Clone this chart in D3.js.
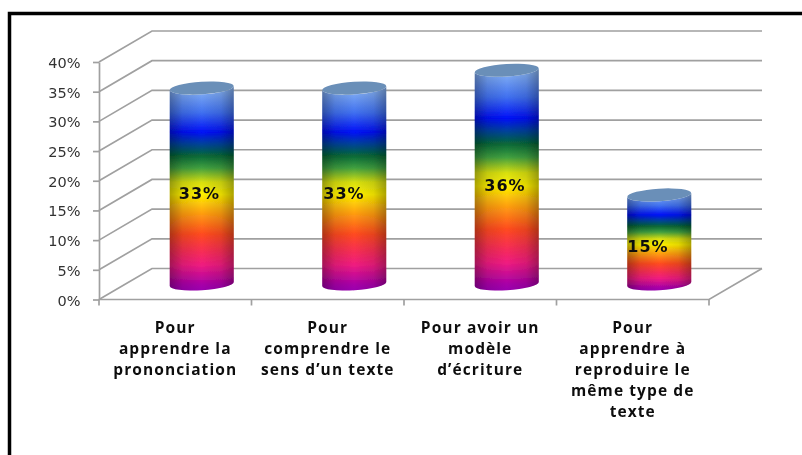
<!DOCTYPE html>
<html><head><meta charset="utf-8">
<script src="https://cdnjs.cloudflare.com/ajax/libs/d3/7.8.5/d3.min.js"></script>
<style>html,body{margin:0;padding:0;background:#fff}svg{display:block}</style>
</head><body><svg id="c" width="802" height="455"></svg>
<script>
const categories = [
  ["Pour","apprendre la","prononciation"],
  ["Pour","comprendre le","sens d’un texte"],
  ["Pour avoir un","modèle","d’écriture"],
  ["Pour","apprendre à","reproduire le","même type de","texte"]
];
const values = [33, 33, 36, 15];
const valueLabels = ["33%","33%","36%","15%"];
const yTicks = [0,5,10,15,20,25,30,35,40];
const rainbowStops = [
  [0,"#9a00b0"],[0.03,"#a800a8"],[0.125,"#f01c80"],[0.2,"#f83050"],[0.275,"#ff4a20"],[0.38,"#ffa010"],[0.47,"#fff000"],[0.53,"#d8e010"],
  [0.6,"#40a040"],[0.66,"#086838"],[0.72,"#0040a0"],[0.775,"#0010f8"],[0.87,"#4070f0"],[1,"#90bcf4"]
];

const svg = d3.select("#c");
const depthX = 53, depthY = -31;
const x = d3.scaleBand().domain(d3.range(categories.length)).range([99,709]);
const y = d3.scaleLinear().domain([0,40]).range([299.5,62]);
const gridCol = "#a0a0a0";
const defs = svg.append("defs");
const rg = defs.append("linearGradient").attr("id","rainbow").attr("x1",0).attr("y1",1).attr("x2",0).attr("y2",0);
rainbowStops.forEach(s=>rg.append("stop").attr("offset",s[0]).attr("stop-color",s[1]));
const sh = defs.append("linearGradient").attr("id","shade");
[[0,.32],[.2,.1],[.5,0],[.8,.1],[1,.32]].forEach(s=>sh.append("stop").attr("offset",s[0]).attr("stop-color","#000").attr("stop-opacity",s[1]));
defs.append("filter").attr("id","soft").append("feGaussianBlur").attr("stdDeviation",0.45);

svg.append("rect").attr("x",9.5).attr("y",13.5).attr("width",800).attr("height",460).attr("fill","#fff").attr("stroke","#000").attr("stroke-width",3.5);

const plot = svg.append("g").attr("filter","url(#soft)");
yTicks.forEach(t=>{
  const p = d3.path();
  p.moveTo(x.range()[0],y(t)); p.lineTo(x.range()[0]+depthX,y(t)+depthY); p.lineTo(x.range()[1]+depthX,y(t)+depthY);
  plot.append("path").attr("d",p).attr("fill","none").attr("stroke",gridCol).attr("stroke-width",1.7);
});
const floor = d3.path();
floor.moveTo(x.range()[0],y(0)); floor.lineTo(x.range()[1],y(0)); floor.lineTo(x.range()[1]+depthX,y(0)+depthY);
plot.append("path").attr("d",floor).attr("fill","none").attr("stroke",gridCol).attr("stroke-width",1.7);
const yAxis = d3.axisLeft(y).tickValues(yTicks).tickSize(6).tickSizeOuter(0).tickFormat(d=>d+"%");
const ga = plot.append("g").attr("transform",`translate(${x.range()[0]},0)`).call(yAxis);
ga.selectAll("path,line").attr("stroke",gridCol).attr("stroke-width",1.7);
ga.selectAll("text").attr("font-family","'DejaVu Sans'").attr("font-size",14.5).attr("fill","#333").attr("x",-18.5).attr("dy","0.38em");
d3.range(categories.length+1).forEach(i=>{
  const tx = x.range()[0]+i*x.step();
  plot.append("line").attr("x1",tx).attr("x2",tx).attr("y1",y(0)).attr("y2",y(0)+6).attr("stroke",gridCol).attr("stroke-width",1.7);
});
const rx = 32, ry = 6.3, tilt = -3.5;
const base = y(0)+depthY/2;
const cx = i => x(i)+x.bandwidth()/2+depthX/2;
const topY = v => base-(y(0)-y(v));
values.forEach((v,i)=>{
  const c = cx(i), t = topY(v);
  const dyE = rx*Math.sin(tilt*Math.PI/180);
  const body = `M${c-rx},${t-dyE} L${c-rx},${base-dyE} A${rx},${ry} ${tilt} 0 0 ${c+rx},${base+dyE} L${c+rx},${t+dyE} A${rx},${ry} ${tilt} 0 1 ${c-rx},${t-dyE} Z`;
  plot.append("path").attr("d",body).attr("fill","url(#rainbow)");
  plot.append("path").attr("d",body).attr("fill","url(#shade)");
  plot.append("ellipse").attr("cx",c).attr("cy",t).attr("rx",rx).attr("ry",ry).attr("transform",`rotate(${tilt} ${c} ${t})`).attr("fill","#6b8fb8");
});
const labelPos = [[199.5,199],[344,199],[505,191],[648,252]];
values.forEach((v,i)=>{
  plot.append("text").attr("x",labelPos[i][0]).attr("y",labelPos[i][1]).attr("text-anchor","middle")
    .attr("font-family","'DejaVu Sans'").attr("font-weight","bold").attr("font-size",16).attr("letter-spacing",1).attr("fill","#111").text(valueLabels[i]);
});
categories.forEach((lines,i)=>{
  const tx = x(i)+x.bandwidth()/2;
  lines.forEach((l,j)=>{
    plot.append("text").attr("x",tx).attr("y",333+j*21.1).attr("text-anchor","middle")
      .attr("font-family","'Open Sans'").attr("font-weight",700).attr("font-size",15.5).attr("letter-spacing",1.1).attr("fill","#111").text(l);
  });
});
</script></body></html>
